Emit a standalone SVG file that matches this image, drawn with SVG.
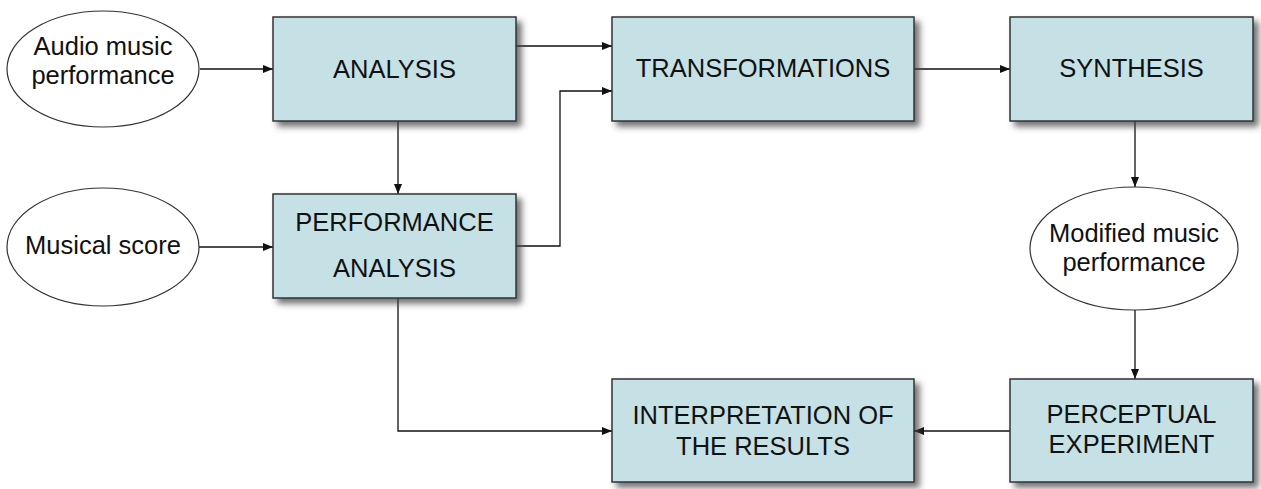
<svg xmlns="http://www.w3.org/2000/svg" width="1261" height="489" viewBox="0 0 1261 489">
<defs>
<filter id="sh" x="-10%" y="-10%" width="130%" height="140%">
<feDropShadow dx="5" dy="5" stdDeviation="3" flood-color="#444" flood-opacity="0.75"/>
</filter>
<marker id="ah" viewBox="0 0 10 8" refX="10" refY="4" markerWidth="10" markerHeight="8" markerUnits="userSpaceOnUse" orient="auto">
<path d="M0,0 L10,4 L0,8 Z" fill="#111"/>
</marker>
<style>
.box{fill:#c5e1e6;stroke:#333;stroke-width:1.5;filter:url(#sh)}
.ell{fill:#fff;stroke:#333;stroke-width:1.2}
.t{font-family:"Liberation Sans",Arial,sans-serif;font-size:25.5px;fill:#111;text-anchor:middle}
.c{fill:none;stroke:#111;stroke-width:1.3;marker-end:url(#ah)}
</style>
</defs>
<rect width="1261" height="489" fill="#fff"/>
<g id="connectors">
<path class="c" d="M200,69 L273,69"/>
<path class="c" d="M516,46 L612,46"/>
<path class="c" d="M516,246 L560,246 L560,91 L612,91"/>
<path class="c" d="M914,69 L1010,69"/>
<path class="c" d="M398,121 L398,194"/>
<path class="c" d="M199,247 L273,247"/>
<path class="c" d="M1135,121 L1135,187"/>
<path class="c" d="M1135,310 L1135,379"/>
<path class="c" d="M1010,431 L914,431"/>
<path class="c" d="M398,298 L398,431 L612,431"/>
</g>
<g id="audio">
<ellipse class="ell" cx="103" cy="69" rx="96" ry="58"/>
<text class="t" x="103" y="55">Audio music</text>
<text class="t" x="103" y="84">performance</text>
</g>
<g id="score">
<ellipse class="ell" cx="103" cy="247" rx="96" ry="59"/>
<text class="t" x="103" y="254">Musical score</text>
</g>
<g id="analysis">
<rect class="box" x="273" y="17" width="243" height="104"/>
<text class="t" x="394.5" y="78">ANALYSIS</text>
</g>
<g id="perf-analysis">
<rect class="box" x="273" y="194" width="243" height="104"/>
<text class="t" x="394.5" y="231">PERFORMANCE</text>
<text class="t" x="394.5" y="277">ANALYSIS</text>
</g>
<g id="transformations">
<rect class="box" x="612" y="17" width="302" height="104"/>
<text class="t" x="763" y="77">TRANSFORMATIONS</text>
</g>
<g id="synthesis">
<rect class="box" x="1010" y="17" width="243" height="104"/>
<text class="t" x="1131.5" y="77">SYNTHESIS</text>
</g>
<g id="modified">
<ellipse class="ell" cx="1134" cy="248.5" rx="104" ry="61.5"/>
<text class="t" x="1134" y="242">Modified music</text>
<text class="t" x="1134" y="271">performance</text>
</g>
<g id="interpretation">
<rect class="box" x="612" y="379" width="302" height="103"/>
<text class="t" x="763" y="424">INTERPRETATION OF</text>
<text class="t" x="763" y="455">THE RESULTS</text>
</g>
<g id="perceptual">
<rect class="box" x="1010" y="379" width="243" height="103"/>
<text class="t" x="1131.5" y="423">PERCEPTUAL</text>
<text class="t" x="1131.5" y="453">EXPERIMENT</text>
</g>
</svg>
